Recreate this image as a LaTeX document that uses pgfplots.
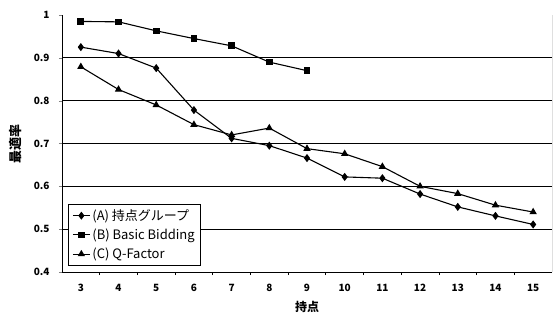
\documentclass[border=0pt]{standalone}
\usepackage{pgfplots}
\pgfplotsset{compat=1.18}
\usepackage{fontspec}
\setmainfont{Noto Sans CJK JP}
\begin{document}
\begin{tikzpicture}[x=1pt,y=1pt]
\useasboundingbox (-62,-50) rectangle (492,272);
\begin{axis}[
  scale only axis, width=490pt, height=257pt,
  at={(0,0)}, anchor=south west,
  xmin=2.5, xmax=15.5, ymin=0.4, ymax=1,
  axis x line*=bottom, axis y line*=left,
  xtick={3,...,15}, major x tick style={draw=none},
  minor xtick={3.5,4.5,...,14.5}, minor x tick style={black, thick},
  minor tick length=3pt,
  ytick={0.4,0.5,...,1.0},
  y tick label style={/pgf/number format/fixed},
  tick align=outside, major tick length=3pt,
  extra y ticks={0.5,0.6,0.7,0.8,0.9}, extra y tick labels={},
  extra y tick style={grid=major, major tick length=0pt},
  major grid style={black, line width=0.8pt},
  axis line style={black, line width=0.9pt},
  tick label style={font=\bfseries\fontsize{10}{12}\selectfont},
  /pgf/number format/assume math mode=true,
  xticklabel style={yshift=-6pt},
  yticklabel style={xshift=-6pt},
  xlabel={持点}, ylabel={最適率},
  xlabel style={font=\bfseries\fontsize{12}{14}\selectfont, yshift=-2pt},
  ylabel style={font=\bfseries\fontsize{13}{15}\selectfont, yshift=2pt},
  legend style={at={(rel axis cs:0.012,0.025)}, anchor=south west,
    draw=black, line width=0.9pt, font=\fontsize{13}{15}\selectfont,
    row sep=3pt, inner xsep=4pt, inner ysep=3pt, cells={anchor=west}},
  legend image post style={line width=1pt},
]
\addplot[black, line width=1.1pt, mark=diamond*, mark size=3.2pt, mark options={solid, fill=black}] coordinates {
 (3,0.925) (4,0.91) (5,0.876) (6,0.778) (7,0.712) (8,0.695) (9,0.666)
 (10,0.622) (11,0.619) (12,0.582) (13,0.552) (14,0.531) (15,0.511)};
\addlegendentry{(A) 持点グループ}
\addplot[black, line width=1.1pt, mark=square*, mark size=2.8pt, mark options={solid, fill=black}] coordinates {
 (3,0.985) (4,0.984) (5,0.963) (6,0.945) (7,0.928) (8,0.89) (9,0.87)};
\addlegendentry{(B) Basic Bidding}
\addplot[black, line width=1.1pt, mark=triangle*, mark size=3.2pt, mark options={solid, fill=black}] coordinates {
 (3,0.879) (4,0.826) (5,0.79) (6,0.744) (7,0.72) (8,0.736) (9,0.688)
 (10,0.676) (11,0.646) (12,0.60) (13,0.583) (14,0.556) (15,0.54)};
\addlegendentry{(C) Q-Factor}
\draw[black, line width=0.9pt] (rel axis cs:1,0) -- (rel axis cs:1,1);
\end{axis}
\end{tikzpicture}
\end{document}
